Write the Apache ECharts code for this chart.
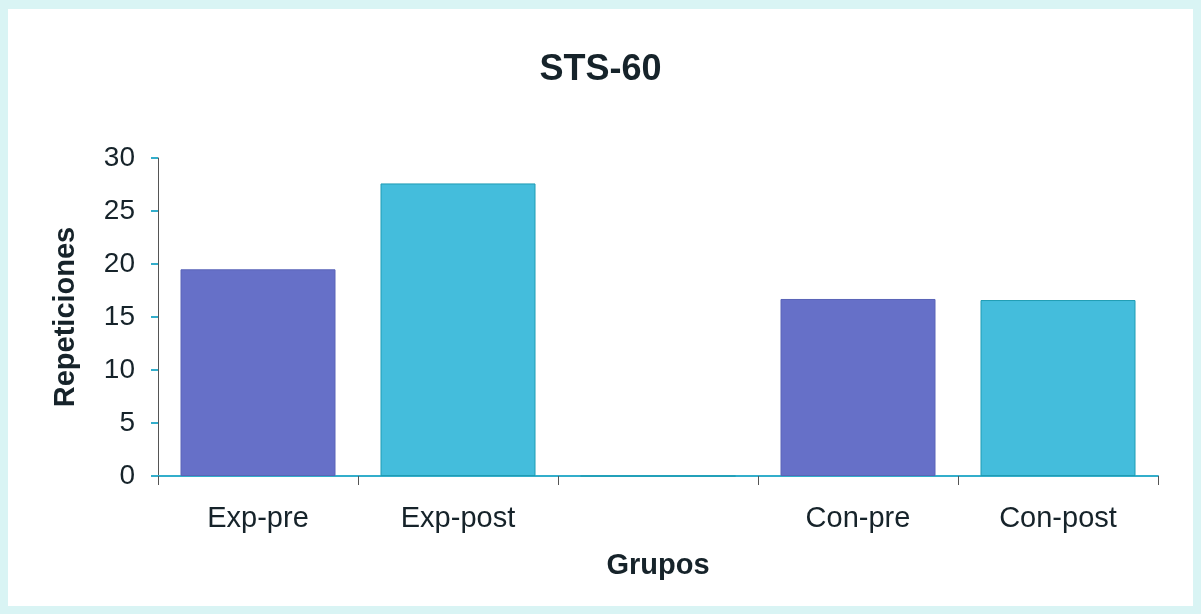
<!DOCTYPE html>
<html>
<head>
<meta charset="utf-8">
<script src="https://cdn.jsdelivr.net/npm/echarts@6/dist/echarts.min.js"></script>
<style>
  html, body { margin: 0; padding: 0; background: #d9f4f4; }
  #chart { position: absolute; left: 8px; top: 9px; width: 1185px; height: 597px; background: #ffffff; }
</style>
</head>
<body>
<div id="chart"></div>
<script>
// data
var categories = ['Exp-pre', 'Exp-post', '', 'Con-pre', 'Con-post'];
var repeticiones = [19.5, 27.6, 0, 16.7, 16.6];
var barColors = ['#6670c8', '#44bddc', '#44bddc', '#6670c8', '#44bddc'];
var barBorders = ['#5a64b8', '#1e9cb4', '#1e9cb4', '#5a64b8', '#1e9cb4'];
var yTicks = { min: 0, max: 30, interval: 5 };

var font = '"Liberation Sans", Arial, sans-serif';

var chart = echarts.init(document.getElementById('chart'));

var option = {
  animation: false,
  title: {
    text: 'STS-60',
    left: 'center',
    top: 38,
    textStyle: { fontFamily: font, fontSize: 36, fontWeight: 'bold', color: '#16232a' }
  },
  grid: {
    left: 150,
    right: 35,
    top: 149,
    bottom: 130
  },
  xAxis: {
    type: 'category',
    data: categories,
    name: 'Grupos',
    nameLocation: 'middle',
    nameGap: 75,
    nameTextStyle: { fontFamily: font, fontSize: 29, fontWeight: 'bold', color: '#16232a' },
    axisLine: { lineStyle: { color: '#33aecb', width: 2 } },
    axisTick: { show: true, interval: 0, length: 9, lineStyle: { color: '#555' } },
    axisLabel: { interval: 0, margin: 28, fontFamily: font, fontSize: 29, color: '#16232a' }
  },
  yAxis: {
    type: 'value',
    min: yTicks.min,
    max: yTicks.max,
    interval: yTicks.interval,
    name: 'Repeticiones',
    nameLocation: 'middle',
    nameGap: 78,
    nameTextStyle: { fontFamily: font, fontSize: 29, fontWeight: 'bold', color: '#16232a' },
    axisLine: { show: true, lineStyle: { color: '#555', width: 1 } },
    axisTick: { show: true, length: 7, lineStyle: { color: '#33aecb', width: 2 } },
    axisLabel: { margin: 23, fontFamily: font, fontSize: 28, color: '#16232a' },
    splitLine: { show: false }
  },
  series: [{
    type: 'bar',
    barWidth: 155,
    data: repeticiones.map(function (v, i) {
      return {
        value: v,
        itemStyle: { color: barColors[i], borderColor: barBorders[i], borderWidth: 1 }
      };
    })
  }]
};

chart.setOption(option);
</script>
</body>
</html>
